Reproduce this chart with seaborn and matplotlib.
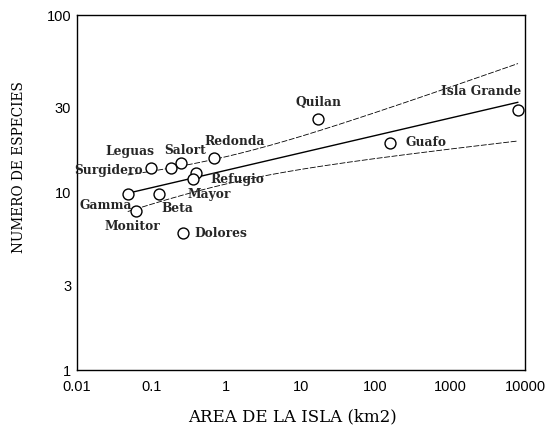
"""
Relacion especies-area en islas: regresion log-log con bandas de confianza.
"""

import numpy as np
import pandas as pd
import matplotlib
matplotlib.use("Agg")
import matplotlib.pyplot as plt
import seaborn as sns

# Datos
ISLAS = ["Isla Grande", "Quilan", "Guafo", "Redonda", "Salort", "Leguas",
         "Surgidero", "Refugio", "Mayor", "Gamma", "Beta", "Monitor", "Dolores"]
AREA_KM2 = [8050, 16.9, 156, 0.69, 0.249, 0.183,
            0.0987, 0.392, 0.364, 0.0482, 0.125, 0.0616, 0.262]
ESPECIES = [29.2, 26.0, 18.9, 15.6, 14.7, 13.7,
            13.7, 12.8, 11.9, 9.8, 9.8, 7.87, 5.89]

X_TICKS = [0.01, 0.1, 1, 10, 100, 1000, 10000]
X_TICK_LABELS = ["0.01", "0.1", "1", "10", "100", "1000", "10000"]
Y_TICKS = [1, 3, 10, 30, 100]
Y_TICK_LABELS = ["1", "3", "10", "30", "100"]

# desplazamiento de las etiquetas (pixeles, x derecha / y arriba) y alineacion
LABEL_POS = {
    "Isla Grande": (3, 18, "right"),
    "Quilan": (1, 16, "center"),
    "Guafo": (15, 1, "left"),
    "Redonda": (-10, 17, "left"),
    "Salort": (4, 12, "center"),
    "Leguas": (-17, 17, "right"),
    "Surgidero": (-8, -2, "right"),
    "Refugio": (15, -6, "left"),
    "Mayor": (-6, -15, "left"),
    "Gamma": (4, -11, "right"),
    "Beta": (3, -14, "left"),
    "Monitor": (-3, -16, "center"),
    "Dolores": (12, 0, "left"),
}

T_CRIT = 2.201  # t(0.975, gl = n - 2 = 11)


def ajuste(df: pd.DataFrame) -> pd.DataFrame:
    lx = np.log10(df["area"].to_numpy())
    ly = np.log10(df["especies"].to_numpy())
    b, a = np.polyfit(lx, ly, 1)
    n = len(lx)
    s = np.sqrt(np.sum((ly - (a + b * lx)) ** 2) / (n - 2))
    sxx = np.sum((lx - lx.mean()) ** 2)
    grid = np.linspace(lx.min(), lx.max(), 200)
    fit = a + b * grid
    half = T_CRIT * s * np.sqrt(1 / n + (grid - lx.mean()) ** 2 / sxx)
    return pd.DataFrame({
        "area": 10 ** grid,
        "fit": 10 ** fit,
        "low": 10 ** (fit - half),
        "high": 10 ** (fit + half),
    })


def main() -> None:
    df = pd.DataFrame({"isla": ISLAS, "area": AREA_KM2, "especies": ESPECIES})
    curva = ajuste(df)

    sns.set_theme(style="white")
    plt.rcParams["font.family"] = ["DejaVu Serif"]

    fig = plt.figure(figsize=(5.53, 4.25), dpi=100)
    ax = fig.add_axes([0.1387, 0.1294, 0.8107, 0.8353])

    sns.lineplot(data=curva, x="area", y="fit", color="black", lw=1.0, ax=ax)
    for col in ["low", "high"]:
        sns.lineplot(data=curva, x="area", y=col, color="black", lw=0.6,
                     dashes=False, ax=ax).lines[-1].set_dashes((7, 2))
    sns.scatterplot(data=df, x="area", y="especies", s=62, marker="o",
                    facecolor="white", edgecolor="black", linewidth=1.0,
                    zorder=5, ax=ax)

    for isla, x, y in zip(ISLAS, AREA_KM2, ESPECIES):
        dx, dy, ha = LABEL_POS[isla]
        ax.annotate(isla, (x, y), xytext=(dx, dy), textcoords="offset pixels",
                    ha=ha, va="center", fontsize=8.8, fontweight="bold",
                    family="DejaVu Serif", zorder=6)

    ax.set_xscale("log")
    ax.set_yscale("log")
    ax.set_xlim(0.01, 10000)
    ax.set_ylim(1, 100)
    ax.set_xticks(X_TICKS)
    ax.set_xticklabels(X_TICK_LABELS)
    ax.set_yticks(Y_TICKS)
    ax.set_yticklabels(Y_TICK_LABELS)
    ax.minorticks_off()
    ax.tick_params(direction="in", length=4, width=0.8, color="black",
                   labelsize=10.5, labelcolor="black")
    ax.tick_params(axis="x", pad=7.5)
    ax.tick_params(axis="y", pad=4)
    for lab in ax.get_xticklabels() + ax.get_yticklabels():
        lab.set_family(["Liberation Sans Narrow", "Liberation Sans"])

    for sp in ax.spines.values():
        sp.set_visible(True)
        sp.set_color("black")
        sp.set_linewidth(1.0)

    ax.set_xlabel("AREA DE LA ISLA (km2)", fontsize=12, color="black")
    ax.set_ylabel("NUMERO DE ESPECIES", fontsize=9.8, color="black")
    ax.xaxis.set_label_coords(0.481, -0.108)
    ax.yaxis.set_label_coords(-0.113, 0.572)

    fig.savefig("out.png", dpi=100)
    plt.close(fig)


if __name__ == "__main__":
    main()
